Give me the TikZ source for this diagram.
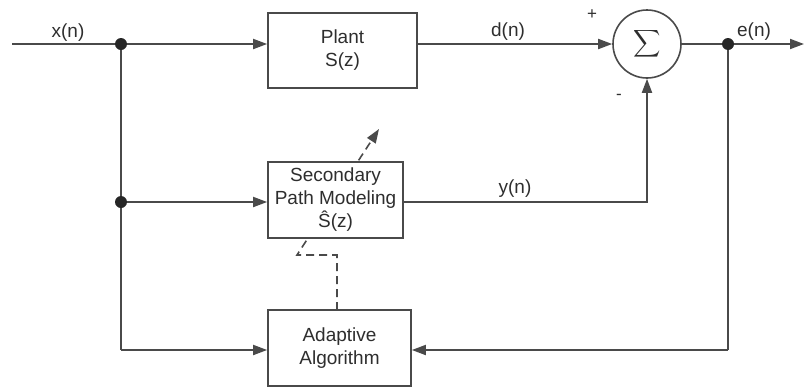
\documentclass[tikz,border=0pt]{standalone}
\usepackage{fontspec}
\setmainfont{Liberation Sans}
\usetikzlibrary{arrows.meta}
\definecolor{ln}{HTML}{4a4a4a}
\definecolor{tx}{HTML}{2e2e2e}
\tikzset{
  blk/.style={draw=ln, line width=1.7pt, fill=white, align=center, text=tx, inner sep=0pt,
    font=\fontsize{19}{23}\selectfont},
  sig/.style={draw=ln, line width=1.8pt, -{Triangle[length=14pt,width=10pt]}},
  wire/.style={draw=ln, line width=1.8pt},
  dot/.style={circle, fill=black!85, inner sep=0pt, minimum size=12pt},
  lbl/.style={text=tx, font=\fontsize{19}{22}\selectfont, inner sep=0pt},
  sgn/.style={text=tx, font=\fontsize{17}{20}\selectfont, inner sep=0pt},
  dsh/.style={draw=ln, line width=1.6pt, dash pattern=on 8pt off 5pt}
}
\begin{document}
\begin{tikzpicture}[x=1pt,y=-1pt]
\useasboundingbox (0,0) rectangle (804,389);
% coordinates
\coordinate (in) at (12,44);
\coordinate (out) at (804,44);
\coordinate (bl) at (121,350);
\coordinate (br) at (728,350);
\coordinate (yc) at (647,202);
\coordinate (d1) at (337,310);
\coordinate (d2) at (337,255);
\coordinate (d3) at (297,255);
\coordinate (d4) at (379,129);
% dashed adaptation arrow (behind box)
\draw[dsh, -{Triangle[length=14pt,width=10pt]}] (d1) -- (d2) -- (d3) -- (d4);
% blocks
\node[blk, minimum width=149pt, minimum height=75pt] (plant) at (342.5,50.5) {Plant\\S(z)};
\node[blk, minimum width=135pt, minimum height=76pt] (sec) at (335.5,200) {Secondary\\Path Modeling\\Ŝ(z)};
\node[blk, minimum width=143pt, minimum height=76pt] (adp) at (339.5,348) {Adaptive\\Algorithm};
\node[draw=ln, line width=1.6pt, circle, minimum size=68pt, inner sep=0pt, fill=white] (sum) at (647,44) {};
\node[text=tx, inner sep=0pt, scale=1.9] at (sum.center) {$\displaystyle\sum$};
% junctions
\node[dot] (j1) at (121,44) {};
\node[dot] (j2) at (121,202) {};
\node[dot] (j3) at (728,44) {};
% wires
\draw[wire] (in) -- (j1);
\draw[sig] (j1) -- (plant.west |- j1);
\draw[sig] (plant.east |- j1) -- (sum.west);
\draw[wire] (sum.east) -- (j3);
\draw[sig] (j3) -- (out);
\draw[wire] (j1) -- (j2);
\draw[sig] (j2) -- (sec.west |- j2);
\draw[wire] (j2) -- (bl);
\draw[sig] (bl) -- (adp.west |- bl);
\draw[wire] (j3) -- (br);
\draw[sig] (br) -- (adp.east |- br);
\draw[sig] (sec.east |- yc) -- (yc) -- (sum.south);
% labels
\node[lbl] at (68,33) {x(n)};
\node[lbl] at (508,32) {d(n)};
\node[lbl] at (754,32) {e(n)};
\node[lbl] at (515,189) {y(n)};
\node[sgn] at (592,15) {+};
\node[sgn] at (619,97) {-};
\end{tikzpicture}
\end{document}
